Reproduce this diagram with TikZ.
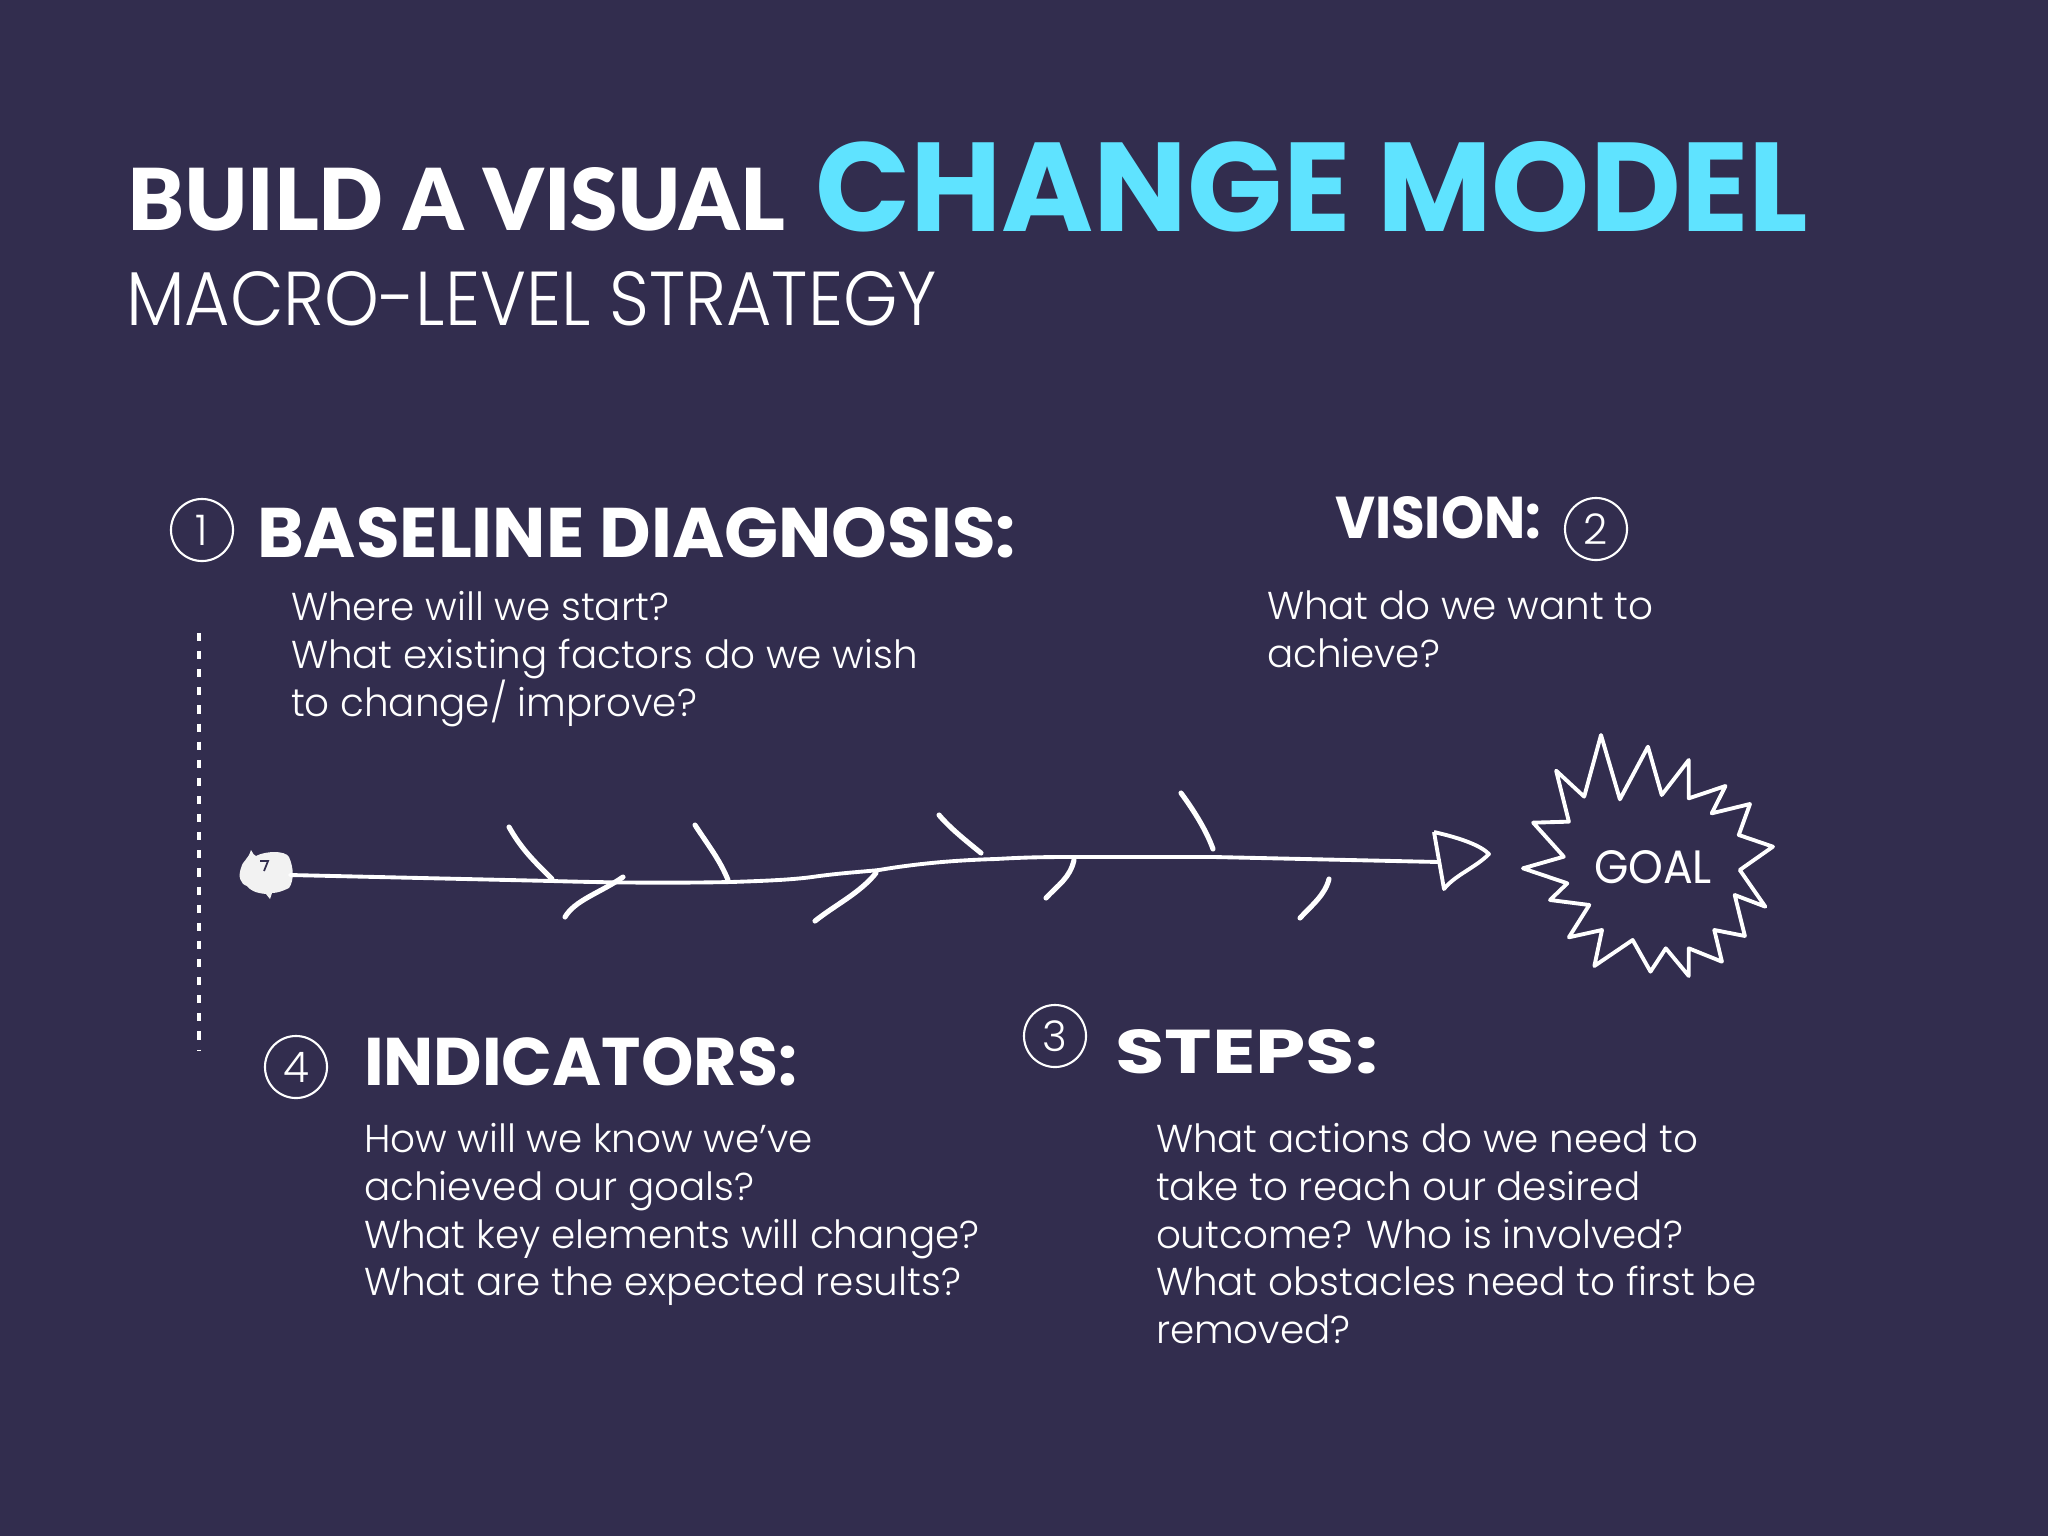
\documentclass[tikz,border=0pt]{standalone}
\usepackage{fontspec}
\usepackage{graphicx}
\setmainfont{Poppins}
\newfontfamily\bodyfont{Poppins Light}
\newfontfamily\titlefont{Lato Black}
\newfontfamily\handfont{Poppins}[BoldFont=* Bold]
\definecolor{bgpurple}{HTML}{322D4E}
\definecolor{cyantitle}{HTML}{5FE3FF}
\definecolor{offwhite}{HTML}{F2F2F2}
% width and height in picture units (0.01cm)
\newcommand{\fitbox}[3]{\resizebox{#1\dimexpr0.01cm\relax}{#2\dimexpr0.01cm\relax}{#3}}
\tikzset{
  plain/.style={inner sep=0pt,outer sep=0pt,text=white,anchor=base west},
  bodytext/.style={inner sep=0pt,outer sep=0pt,text=white,anchor=north west,align=left,
    font={\bodyfont\fontsize{11.05pt}{13.62pt}\selectfont}},
  numcircle/.style={circle,draw=white,line width=0.6pt,minimum size=0.62cm,inner sep=0pt,text=white,
    font={\bodyfont\fontsize{12pt}{12pt}\selectfont}},
  spine/.style={draw=white,line width=1.1pt,line cap=round},
  rib/.style={draw=white,line width=1.45pt,line cap=round},
  sketch/.style={draw=white,line width=1.1pt,line join=round},
}
\begin{document}
\begin{tikzpicture}[x=0.01cm,y=-0.01cm]
\useasboundingbox (0,0) rectangle (2048,1536);
\fill[bgpurple] (0,0) rectangle (2048,1536);
% titles
\node[plain] (t1) at (127,230) {\fitbox{658}{63}{\titlefont BUILD A VISUAL}};
\node[plain,text=cyantitle] (t2) at (815,231) {\fitbox{993}{90}{\bfseries CHANGE MODEL}};
\node[plain] (t3) at (126,325) {\fitbox{811}{54}{\bodyfont MACRO-LEVEL STRATEGY}};
% numbered circles
\node[numcircle] (n1) at (202,530) {1};
\node[numcircle] (n2) at (1596,529) {2};
\node[numcircle] (n3) at (1055,1036) {3};
\node[numcircle] (n4) at (296,1067) {4};
% headings
\node[plain] (h1) at (257,557) {\fitbox{759}{50}{\handfont\bfseries BASELINE DIAGNOSIS:}};
\node[plain] (h2) at (1335,538) {\fitbox{206}{42}{\handfont\bfseries VISION:}};
\node[plain] (h3) at (364,1085) {\fitbox{433}{48}{\handfont\bfseries INDICATORS:}};
\node[plain] (h4) at (1115,1073) {\fitbox{263}{44}{\handfont\bfseries STEPS:}};
% body
\node[bodytext] (b1) at (291,591) {Where will we start?\\What existing factors do we wish\\to change/ improve?};
\node[bodytext] (b2) at (1267,591) {What do we want to\\achieve?};
\node[bodytext] (b4) at (364,1123) {How will we know we’ve\\achieved our goals?\\What key elements will change?\\What are the expected results?};
\node[bodytext] (b3) at (1156,1123) {What actions do we need to\\take to reach our desired\\outcome? Who is involved?\\What obstacles need to first be\\removed?};
% dotted line
\coordinate (dtop) at (199,633);
\coordinate (dbot) at (199,1050);
\draw[white,line width=1.4pt,dash pattern=on 2.3pt off 2.85pt] (dtop) -- (dbot);
% tail blob
\fill[offwhite] (241,868) .. controls (243,860) and (248,860) .. (251,850) .. controls (253,853) and (254,856) .. (256,856)
  .. controls (265,851) and (285,850) .. (289,857) .. controls (294,868) and (294,881) .. (289,888)
  .. controls (283,891) and (277,893) .. (272,893) -- (270,899) -- (266,894) .. controls (255,893) and (250,890) .. (247,886)
  .. controls (240,884) and (238,876) .. (241,868) -- cycle;
\draw[bgpurple,line width=0.5pt] (260,861) -- (268,861) -- (264,871);
\coordinate (tail) at (290,875);
\coordinate (s1) at (552,881);
\coordinate (s2) at (731,882);
\coordinate (s3) at (812,877);
\coordinate (s4) at (879,870);
\coordinate (s5) at (996,859);
\coordinate (s6) at (1077,857);
\coordinate (s7) at (1214,857);
\coordinate (headbase) at (1439,862);
\draw[spine] (tail) -- (s1) .. controls (620,883) and (680,883) .. (s2) .. controls (760,881) and (790,880) .. (s3)
  .. controls (840,873) and (860,872) .. (s4) .. controls (920,863) and (960,860) .. (s5) .. controls (1030,857) and (1050,857) .. (s6) -- (s7) -- (headbase);
% arrowhead
\coordinate (a1) at (1434,832);
\coordinate (a2) at (1489,854);
\coordinate (a3) at (1444,889);
\draw[sketch] (a1) -- (a3) .. controls (1455,875) and (1475,868) .. (a2) .. controls (1480,845) and (1460,838) .. (a1);
% ribs
\draw[rib] (509,827) .. controls (522,850) and (535,862) .. (552,879);
\draw[rib] (695,825) .. controls (708,845) and (720,860) .. (728,880);
\draw[rib] (939,815) .. controls (950,828) and (965,840) .. (981,853);
\draw[rib] (1181,793) .. controls (1195,812) and (1207,832) .. (1213,849);
\draw[rib] (623,877) .. controls (600,893) and (575,900) .. (565,917);
\draw[rib] (876,873) .. controls (860,893) and (835,905) .. (815,921);
\draw[rib] (1074,860) .. controls (1070,878) and (1058,885) .. (1046,898);
\draw[rib] (1329,879) .. controls (1325,895) and (1312,905) .. (1300,918);
% goal star
\begin{scope}[shift={(1000,700)},xscale=0.5102,yscale=0.3333]
\draw[sketch] (1178,105) -- (1215,298) -- (1270,140) -- (1297,285) -- (1350,180) -- (1350,295) -- (1422,258) -- (1395,340)
 -- (1470,312) -- (1448,405) -- (1515,440) -- (1450,510) -- (1500,620) -- (1440,585) -- (1460,708) -- (1400,690)
 -- (1415,785) -- (1350,745) -- (1350,828) -- (1305,745) -- (1275,815) -- (1240,720) -- (1165,798) -- (1180,690)
 -- (1115,712) -- (1155,615) -- (1078,600) -- (1112,550) -- (1025,505) -- (1105,470) -- (1045,368) -- (1115,365)
 -- (1090,212) -- (1145,290) -- cycle;
\end{scope}
\node[plain] (goal) at (1594,883) {\fitbox{118}{33}{\handfont GOAL}};
\end{tikzpicture}
\end{document}
